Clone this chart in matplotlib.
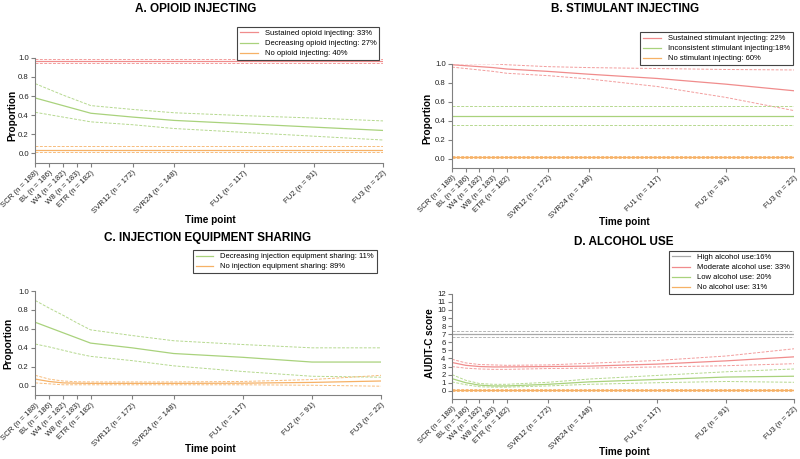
import numpy as np
import matplotlib.pyplot as plt

# time points and their spacing on the x axis
tick_labels = ['SCR (n = 188)', 'BL (n = 186)', 'W4 (n = 182)', 'W8 (n = 183)',
               'ETR (n = 182)', 'SVR12 (n = 172)', 'SVR24 (n = 148)',
               'FU1 (n = 117)', 'FU2 (n = 91)', 'FU3 (n = 22)']
tick_pos = [0, 1, 2, 3, 4, 7, 10, 15, 20, 25]

# A. opioid injecting (solid, upper, lower)
a_sus = [0.965] * 10
a_sus_hi = [0.985] * 10
a_sus_lo = [0.945] * 10
a_dec = [0.58, 0.54, 0.50, 0.46, 0.42, 0.38, 0.345, 0.31, 0.275, 0.24]
a_dec_hi = [0.73, 0.67, 0.61, 0.555, 0.50, 0.46, 0.425, 0.395, 0.37, 0.34]
a_dec_lo = [0.43, 0.405, 0.38, 0.355, 0.33, 0.30, 0.26, 0.22, 0.18, 0.14]
a_no = [0.04] * 10
a_no_hi = [0.075] * 10
a_no_lo = [0.01] * 10

# B. stimulant injecting
b_sus = [0.99, 0.98, 0.97, 0.96, 0.945, 0.92, 0.89, 0.845, 0.785, 0.715]
b_sus_hi = [1.0, 1.0, 1.0, 1.0, 0.99, 0.97, 0.96, 0.95, 0.94, 0.935]
b_sus_lo = [0.965, 0.95, 0.935, 0.92, 0.90, 0.875, 0.84, 0.76, 0.645, 0.505]
b_inc = [0.45] * 10
b_inc_hi = [0.55] * 10
b_inc_lo = [0.35] * 10
b_no = [0.015] * 10
b_no_hi = [0.025] * 10
b_no_lo = [0.005] * 10

# C. injection equipment sharing
c_dec = [0.67, 0.615, 0.56, 0.505, 0.45, 0.40, 0.34, 0.30, 0.25, 0.25]
c_dec_hi = [0.90, 0.82, 0.745, 0.665, 0.59, 0.53, 0.475, 0.435, 0.40, 0.40]
c_dec_lo = [0.44, 0.41, 0.375, 0.34, 0.31, 0.265, 0.21, 0.15, 0.10, 0.09]
c_no = [0.07, 0.045, 0.03, 0.027, 0.025, 0.025, 0.025, 0.027, 0.035, 0.05]
c_no_hi = [0.11, 0.07, 0.05, 0.042, 0.04, 0.04, 0.04, 0.045, 0.065, 0.11]
c_no_lo = [0.03, 0.02, 0.01, 0.01, 0.01, 0.01, 0.01, 0.01, 0.005, -0.005]

# D. alcohol use (AUDIT-C)
d_high = [7.05] * 10
d_high_hi = [7.45] * 10
d_high_lo = [6.6] * 10
d_mod = [3.5, 3.15, 3.0, 2.95, 2.95, 3.0, 3.05, 3.3, 3.7, 4.2]
d_mod_hi = [3.9, 3.45, 3.25, 3.2, 3.15, 3.2, 3.4, 3.75, 4.3, 5.2]
d_mod_lo = [3.0, 2.8, 2.7, 2.65, 2.65, 2.75, 2.8, 2.95, 3.1, 3.35]
d_low = [1.5, 1.0, 0.7, 0.6, 0.6, 0.8, 1.1, 1.4, 1.7, 1.8]
d_low_hi = [2.0, 1.3, 0.9, 0.8, 0.8, 1.05, 1.45, 1.9, 2.35, 2.7]
d_low_lo = [1.1, 0.75, 0.5, 0.45, 0.45, 0.6, 0.8, 1.0, 1.15, 1.05]
d_no = [0.1] * 10
d_no_hi = [0.2] * 10
d_no_lo = [0.0] * 10

RED = '#f08c8c'
GREEN = '#a9d27c'
ORANGE = '#f6b166'
GRAY = '#a8a8a8'
AXC = '#808080'

plt.rcParams['font.family'] = ['Liberation Sans', 'DejaVu Sans']

fig = plt.figure(figsize=(8, 4.59), dpi=100)


def draw_group(ax, mid, hi, lo, color, label):
    ax.plot(tick_pos, mid, color=color, lw=0.9, label=label)
    ax.plot(tick_pos, hi, color=color, lw=0.7, ls=(0, (3, 1.5)), alpha=0.85)
    ax.plot(tick_pos, lo, color=color, lw=0.7, ls=(0, (3, 1.5)), alpha=0.85)


def style_axes(ax, ylim, yticks, yfmt):
    ax.set_xlim(0, 25)
    ax.set_ylim(*ylim)
    ax.set_xticks(tick_pos)
    ax.set_xticklabels(tick_labels, rotation=45, ha='right',
                       rotation_mode='anchor', fontsize=5.6)
    ax.set_yticks(yticks)
    ax.set_yticklabels([yfmt.format(v) for v in yticks], fontsize=5.6)
    for s in ['top', 'right']:
        ax.spines[s].set_visible(False)
    for s in ['left', 'bottom']:
        ax.spines[s].set_color(AXC)
        ax.spines[s].set_linewidth(0.8)
    ax.tick_params(colors='#222222', length=3, width=0.8, color=AXC, pad=1.5)


def add_legend(ax, anchor):
    leg = ax.legend(loc='upper right', bbox_to_anchor=anchor,
                    bbox_transform=fig.transFigure, fontsize=5.5,
                    handlelength=2.3, handletextpad=0.9, labelspacing=0.35,
                    borderpad=0.4, fancybox=False, framealpha=1)
    leg.get_frame().set_edgecolor('#444444')
    leg.get_frame().set_linewidth(0.8)


prop_ticks = [0.0, 0.2, 0.4, 0.6, 0.8, 1.0]

# A
axA = fig.add_axes([0.044, 0.645, 0.435, 0.229])
draw_group(axA, a_sus, a_sus_hi, a_sus_lo, RED, 'Sustained opioid injecting: 33%')
draw_group(axA, a_dec, a_dec_hi, a_dec_lo, GREEN, 'Decreasing opioid injecting: 27%')
draw_group(axA, a_no, a_no_hi, a_no_lo, ORANGE, 'No opioid injecting: 40%')
style_axes(axA, (-0.1, 1.0), prop_ticks, '{:.1f}')
add_legend(axA, (0.479, 0.950))

# B
axB = fig.add_axes([0.565, 0.634, 0.428, 0.227])
draw_group(axB, b_sus, b_sus_hi, b_sus_lo, RED, 'Sustained stimulant injecting: 22%')
draw_group(axB, b_inc, b_inc_hi, b_inc_lo, GREEN, 'Inconsistent stimulant injecting:18%')
draw_group(axB, b_no, b_no_hi, b_no_lo, ORANGE, 'No stimulant injecting: 60%')
style_axes(axB, (-0.1, 1.0), prop_ticks, '{:.1f}')
add_legend(axB, (0.996, 0.939))

# C
axC = fig.add_axes([0.044, 0.139, 0.4325, 0.227])
draw_group(axC, c_dec, c_dec_hi, c_dec_lo, GREEN, 'Decreasing injection equipment sharing: 11%')
draw_group(axC, c_no, c_no_hi, c_no_lo, ORANGE, 'No injection equipment sharing: 89%')
style_axes(axC, (-0.1, 1.0), prop_ticks, '{:.1f}')
add_legend(axC, (0.476, 0.464))

# D
axD = fig.add_axes([0.565, 0.131, 0.428, 0.229])
draw_group(axD, d_high, d_high_hi, d_high_lo, GRAY, 'High alcohol use:16%')
draw_group(axD, d_mod, d_mod_hi, d_mod_lo, RED, 'Moderate alcohol use: 33%')
draw_group(axD, d_low, d_low_hi, d_low_lo, GREEN, 'Low alcohol use: 20%')
draw_group(axD, d_no, d_no_hi, d_no_lo, ORANGE, 'No alcohol use: 31%')
style_axes(axD, (-1, 12), list(range(0, 13)), '{:d}')
add_legend(axD, (0.996, 0.462))

# titles and axis labels placed in figure coordinates
tkw = dict(ha='center', va='center', fontsize=8.5, fontweight='bold')
fig.text(0.244, 0.980, 'A. OPIOID INJECTING', **tkw)
fig.text(0.781, 0.980, 'B. STIMULANT INJECTING', **tkw)
fig.text(0.260, 0.481, 'C. INJECTION EQUIPMENT SHARING', **tkw)
fig.text(0.780, 0.473, 'D. ALCOHOL USE', **tkw)

lkw = dict(ha='center', va='center', fontsize=7.2, fontweight='bold')
fig.text(0.2625, 1 - 220 / 459, 'Time point', **lkw)
fig.text(0.781, 1 - 222 / 459, 'Time point', **lkw)
fig.text(0.2625, 1 - 449 / 459, 'Time point', **lkw)
fig.text(0.781, 1 - 452 / 459, 'Time point', **lkw)
fig.text(12 / 800, 1 - 115 / 459, 'Proportion', rotation=90, **lkw)
fig.text(427 / 800, 1 - 118 / 459, 'Proportion', rotation=90, **lkw)
fig.text(8 / 800, 1 - 343 / 459, 'Proportion', rotation=90, **lkw)
fig.text(430 / 800, 1 - 343 / 459, 'AUDIT-C score', rotation=90, **lkw)

fig.savefig('out.png', dpi=100)
